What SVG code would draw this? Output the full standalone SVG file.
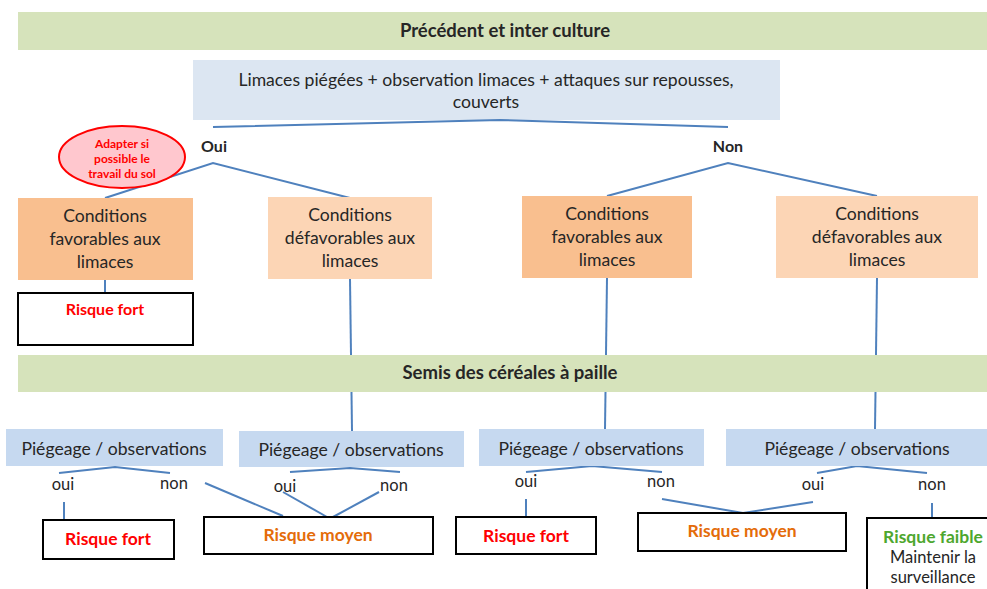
<svg xmlns="http://www.w3.org/2000/svg" width="987" height="589" viewBox="0 0 987 589">
<style>
text{font-family:Lato,"Liberation Sans",sans-serif;text-anchor:middle;fill:#262626}
.band{fill:#d6e3bb}
.q{fill:#dce6f2}
.p{fill:#c6d9f0}
.fav{fill:#f9bf8f}
.def{fill:#fcd5b5}
.res{fill:#fff;stroke:#000;stroke-width:2}
.b{font-weight:bold}
.t16{font-size:17.6px}
.t15{font-size:16.5px}
.h{font-size:18.5px;font-weight:bold}
.red{fill:#ff0000;font-weight:bold}
.org{fill:#e46c0a;font-weight:bold}
.grn{fill:#4ea72e;font-weight:bold}
#connectors path{fill:none;stroke:#4f81bd;stroke-width:2}
</style>
<rect width="987" height="589" fill="#fff"/>
<g id="band1"><rect class="band" x="18" y="12" width="969" height="38"/><text class="h" x="505" y="37">Précédent et inter culture</text></g>
<g id="question"><rect class="q" x="193" y="60" width="587" height="60"/><text class="t16" x="486" y="86">Limaces piégées + observation limaces + attaques sur repousses,</text><text class="t16" x="486" y="108">couverts</text></g>
<g id="connectors">
<path d="M213 127 L500 120 L728 127"/>
<path d="M105 198 L213 163 L350 198"/>
<path d="M607 196 L728 163 L877 196"/>
<path d="M105 280 L105 293"/>
<path d="M350 279 L352 431"/>
<path d="M607 278 L605 429"/>
<path d="M877 278 L875 429"/>
<path d="M59 473 L115 467 L170 473"/>
<path d="M64 502 L64 520"/>
<path d="M205 483 L283 516"/>
<path d="M290 472 L350 468 L400 472"/>
<path d="M283 492 L327 517"/>
<path d="M379 492 L333 517"/>
<path d="M526 472 L592 466 L662 472"/>
<path d="M526 499 L526 517"/>
<path d="M662 499 L743 513 L813 502"/>
<path d="M817 473 L857 466 L927 473"/>
<path d="M932 503 L932 518"/>
</g>
<g id="oui"><text class="b" font-size="16" x="214" y="152">Oui</text></g>
<g id="non"><text class="b" font-size="16" x="728" y="152">Non</text></g>
<g id="note"><ellipse cx="122" cy="157" rx="63" ry="31" fill="#ffc7ce" stroke="#ff0000" stroke-width="2"/><text class="red" font-size="12" x="122" y="148">Adapter si</text><text class="red" font-size="12" x="122" y="163">possible le</text><text class="red" font-size="12" x="122" y="178">travail du sol</text></g>
<g id="c1"><rect class="fav" x="18" y="198" width="175" height="82"/><text class="t16" x="105" y="222">Conditions</text><text class="t16" x="105" y="245">favorables aux</text><text class="t16" x="105" y="268">limaces</text></g>
<g id="c2"><rect class="def" x="268" y="197" width="164" height="82"/><text class="t16" x="350" y="221">Conditions</text><text class="t16" x="350" y="244">défavorables aux</text><text class="t16" x="350" y="267">limaces</text></g>
<g id="c3"><rect class="fav" x="522" y="196" width="170" height="82"/><text class="t16" x="607" y="220">Conditions</text><text class="t16" x="607" y="243">favorables aux</text><text class="t16" x="607" y="266">limaces</text></g>
<g id="c4"><rect class="def" x="776" y="196" width="202" height="82"/><text class="t16" x="877" y="220">Conditions</text><text class="t16" x="877" y="243">défavorables aux</text><text class="t16" x="877" y="266">limaces</text></g>
<g id="r0"><rect class="res" x="18" y="293" width="175" height="52"/><text class="red" font-size="16" x="105" y="315">Risque fort</text></g>
<g id="band2"><rect class="band" x="18" y="355" width="969" height="37"/><text class="h" x="510" y="379">Semis des céréales à paille</text></g>
<g id="p1"><rect class="p" x="6" y="429" width="217" height="37"/><text class="t16" x="114" y="455">Piégeage / observations</text></g>
<g id="p2"><rect class="p" x="239" y="431" width="225" height="36"/><text class="t16" x="351" y="456">Piégeage / observations</text></g>
<g id="p3"><rect class="p" x="479" y="429" width="225" height="37"/><text class="t16" x="591" y="455">Piégeage / observations</text></g>
<g id="p4"><rect class="p" x="726" y="429" width="261" height="37"/><text class="t16" x="857" y="455">Piégeage / observations</text></g>
<g id="l1"><text class="t15" x="63" y="490">oui</text><text class="t15" x="174" y="489">non</text></g>
<g id="l2"><text class="t15" x="285" y="492">oui</text><text class="t15" x="394" y="491">non</text></g>
<g id="l3"><text class="t15" x="526" y="487">oui</text><text class="t15" x="661" y="487">non</text></g>
<g id="l4"><text class="t15" x="813" y="490">oui</text><text class="t15" x="932" y="490">non</text></g>
<g id="r1"><rect class="res" x="43" y="520" width="131" height="39"/><text class="red" font-size="17.5" x="108" y="545">Risque fort</text></g>
<g id="r2"><rect class="res" x="204" y="517" width="229" height="37"/><text class="org" font-size="17.5" x="318" y="541">Risque moyen</text></g>
<g id="r3"><rect class="res" x="456" y="517" width="140" height="37"/><text class="red" font-size="17.5" x="526" y="542">Risque fort</text></g>
<g id="r4"><rect class="res" x="638" y="513" width="208" height="38"/><text class="org" font-size="17.5" x="742" y="537">Risque moyen</text></g>
<g id="r5"><rect class="res" x="867" y="518" width="130" height="80"/><text class="grn" font-size="17.5" x="933" y="543">Risque faible</text><text class="t15" x="933" y="563">Maintenir la</text><text class="t15" x="933" y="583">surveillance</text></g>
</svg>
